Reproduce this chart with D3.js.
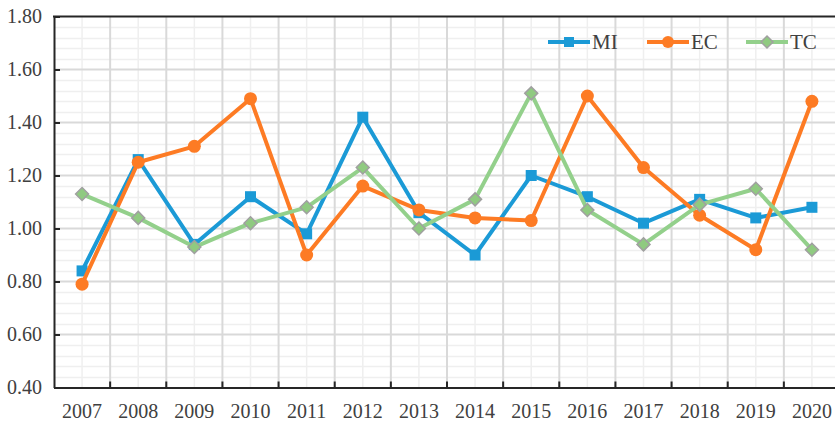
<!DOCTYPE html>
<html>
<head>
<meta charset="utf-8">
<script src="https://cdn.jsdelivr.net/npm/d3@7"></script>
<style>
  html, body { margin: 0; padding: 0; background: #fff; }
  svg { display: block; }
</style>
</head>
<body>
<svg id="chart" width="835" height="422"></svg>
<script>
const years = ["2007","2008","2009","2010","2011","2012","2013","2014","2015","2016","2017","2018","2019","2020"];
const MI = [0.84, 1.26, 0.94, 1.12, 0.98, 1.42, 1.06, 0.90, 1.20, 1.12, 1.02, 1.11, 1.04, 1.08];
const EC = [0.79, 1.25, 1.31, 1.49, 0.90, 1.16, 1.07, 1.04, 1.03, 1.50, 1.23, 1.05, 0.92, 1.48];
const TC = [1.13, 1.04, 0.93, 1.02, 1.08, 1.23, 1.00, 1.11, 1.51, 1.07, 0.94, 1.09, 1.15, 0.92];
const yTicks = [0.40, 0.60, 0.80, 1.00, 1.20, 1.40, 1.60, 1.80];
const seriesNames = ["MI", "EC", "TC"];

const series = [
  {name: "MI", values: MI, color: "#1b9ad6", marker: "square"},
  {name: "EC", values: EC, color: "#fd7b24", marker: "circle"},
  {name: "TC", values: TC, color: "#93d08b", marker: "diamond"}
];

const svg = d3.select("#chart");
const pLeft = 54, pTop = 16.5, pRight = 840, pBottom = 387.5;
const font = "'Liberation Serif', 'Times New Roman', serif";
const textColor = "#404040";

const x = d3.scaleBand().domain(years).range([pLeft, pRight]).padding(0);
const y = d3.scaleLinear().domain([0.4, 1.8]).range([pBottom, pTop]);

const g = svg.append("g");

// minor horizontal gridlines (every 0.04)
const minorY = d3.range(0, 36).map(i => 0.4 + i * 0.04).filter(v => Math.abs(((v - 0.4) / 0.2) - Math.round((v - 0.4) / 0.2)) > 1e-6);
g.selectAll("line.hminor").data(minorY).enter().append("line")
  .attr("x1", pLeft).attr("x2", pRight)
  .attr("y1", d => Math.round(y(d)) + 0.5).attr("y2", d => Math.round(y(d)) + 0.5)
  .attr("stroke", "#efefef").attr("stroke-width", 1.5);
// minor vertical gridlines at category centers
g.selectAll("line.vminor").data(years).enter().append("line")
  .attr("x1", d => x(d) + x.bandwidth() / 2).attr("x2", d => x(d) + x.bandwidth() / 2)
  .attr("y1", pTop).attr("y2", pBottom)
  .attr("stroke", "#efefef").attr("stroke-width", 1.5);
// major horizontal gridlines
g.selectAll("line.hmajor").data(yTicks.slice(1, -1)).enter().append("line")
  .attr("x1", pLeft).attr("x2", pRight)
  .attr("y1", d => y(d)).attr("y2", d => y(d))
  .attr("stroke", "#d9d9d9").attr("stroke-width", 2);
// major vertical gridlines at category boundaries
g.selectAll("line.vmajor").data(years.slice(1)).enter().append("line")
  .attr("x1", d => x(d)).attr("x2", d => x(d))
  .attr("y1", pTop).attr("y2", pBottom)
  .attr("stroke", "#d9d9d9").attr("stroke-width", 2);

// axes
const yAxis = d3.axisLeft(y).tickValues(yTicks).tickFormat(d3.format(".2f")).tickSizeInner(-6).tickSizeOuter(0).tickPadding(12);
const yg = svg.append("g").attr("transform", `translate(${pLeft},0)`).call(yAxis);
yg.select(".domain").attr("stroke", "#262626").attr("stroke-width", 2);
yg.selectAll(".tick line").attr("stroke", "#262626").attr("stroke-width", 2);
yg.selectAll("text").attr("font-family", font).attr("font-size", 20).attr("fill", textColor);

const xAxis = d3.axisBottom(x).tickSize(0).tickPadding(16);
const xg = svg.append("g").attr("transform", `translate(0,${pBottom})`).call(xAxis);
xg.select(".domain").attr("stroke", "#262626").attr("stroke-width", 2);
xg.selectAll("text").attr("font-family", font).attr("font-size", 20).attr("fill", textColor);
// category boundary ticks (inside)
svg.append("g").selectAll("line").data(years.slice(1)).enter().append("line")
  .attr("x1", d => x(d)).attr("x2", d => x(d))
  .attr("y1", pBottom).attr("y2", pBottom - 6)
  .attr("stroke", "#262626").attr("stroke-width", 2);
// top border
svg.append("line").attr("x1", pLeft - 1).attr("x2", pRight).attr("y1", pTop).attr("y2", pTop)
  .attr("stroke", "#262626").attr("stroke-width", 2);

const cx = d => x(d) + x.bandwidth() / 2;

function drawMarker(sel, type, color, size) {
  if (type === "square") {
    sel.append("rect").attr("x", -size/2).attr("y", -size/2).attr("width", size).attr("height", size)
      .attr("fill", color);
  } else if (type === "circle") {
    sel.append("circle").attr("r", size/2 + 1).attr("fill", color);
  } else {
    const s = size / 2 + 1;
    sel.append("path").attr("d", `M0,${-s}L${s},0L0,${s}L${-s},0Z`)
      .attr("fill", "#8fca80").attr("stroke", "#a0a0a0").attr("stroke-width", 1.5);
  }
}

const line = d3.line().x((d, i) => cx(years[i])).y(d => y(d));
series.forEach(s => {
  const sg = svg.append("g");
  sg.append("path").datum(s.values).attr("d", line)
    .attr("fill", "none").attr("stroke", s.color).attr("stroke-width", 4).attr("stroke-linejoin", "round");
  s.values.forEach((v, i) => {
    const m = sg.append("g").attr("transform", `translate(${cx(years[i])},${y(v)})`);
    drawMarker(m, s.marker, s.color, 11);
  });
});

// legend
const legendX = [548, 647, 746];
series.forEach((s, i) => {
  const lg = svg.append("g").attr("transform", `translate(${legendX[i]},42)`);
  lg.append("line").attr("x1", 0).attr("x2", 42).attr("y1", 0).attr("y2", 0)
    .attr("stroke", s.color).attr("stroke-width", 4);
  const m = lg.append("g").attr("transform", "translate(21,0)");
  drawMarker(m, s.marker, s.color, 10);
  lg.append("text").attr("x", 44).attr("y", 7).text(seriesNames[i])
    .attr("font-family", font).attr("font-size", 21).attr("fill", textColor);
});
</script>
</body>
</html>
